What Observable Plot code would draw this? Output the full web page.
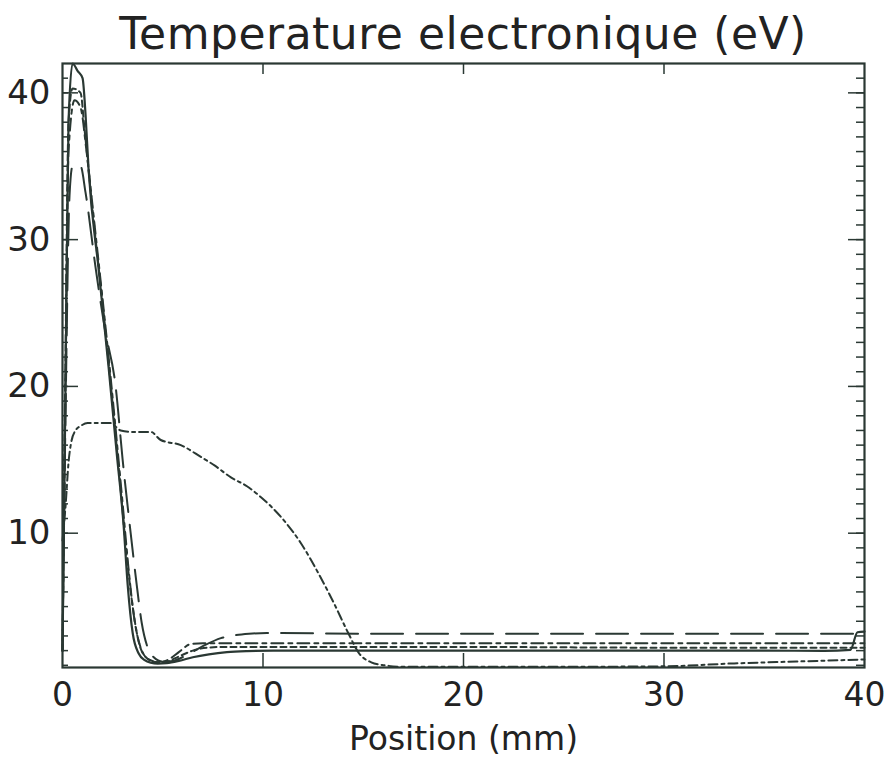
<!DOCTYPE html>
<html>
<head>
<meta charset="utf-8">
<script src="https://cdn.jsdelivr.net/npm/d3@7"></script>
<script src="https://cdn.jsdelivr.net/npm/@observablehq/plot@0.6"></script>
<style>
  html, body { margin: 0; padding: 0; background: #fff; }
  #wrap { position: relative; width: 889px; height: 760px; }
  #title { position: absolute; top: 12px; left: 62px; width: 802px; text-align: center;
           font-family: "DejaVu Sans", sans-serif; font-size: 44px; line-height: 1; color: #222; letter-spacing: 0.5px; }
</style>
</head>
<body>
<div id="wrap">
  <div id="title">Temperature electronique (eV)</div>
</div>
<script>
// ---- Data ----
const titleText = "Temperature electronique (eV)";
const xLabel = "Position (mm)";
const xTickValues = [0, 10, 20, 30, 40];
const xInnerTicks = [10, 20, 30];
const yTickValues = [10, 20, 30, 40];
const yMinorTicks = [1,2,3,4,5,6,7,8,9,10,11,12,13,14,15,16,17,18,19,20,21,22,23,24,25,26,27,28,29,30,31,32,33,34,35,36,37,38,39,40,41];

// Series 1: solid
const solidX = [0, 0.15, 0.3, 0.5, 0.75, 1.0, 1.15, 1.3, 1.8, 2.3, 2.7, 3.05, 3.25, 3.5, 3.8, 4.1, 4.4, 4.75, 5.2, 5.8, 6.5, 7.3, 8.2, 9.2, 10.5, 15, 20, 25, 30, 35, 38, 39.3, 39.65, 40];
const solidT = [2.0, 20, 38, 42, 41.5, 41, 38.5, 34.8, 28, 21.3, 15.5, 10.5, 6.5, 3.2, 1.8, 1.35, 1.18, 1.12, 1.15, 1.3, 1.55, 1.75, 1.9, 1.97, 2.0, 2.0, 2.0, 2.0, 2.0, 2.0, 1.98, 2.05, 3.25, 3.3];

// Series 2: long dash
const longDashX = [0, 0.15, 0.35, 0.5, 0.9, 1.15, 1.65, 2.1, 2.65, 3.0, 3.4, 3.7, 3.95, 4.25, 4.55, 5.0, 5.5, 6.2, 7.0, 7.9, 8.6, 9.3, 10.2, 15, 20, 30, 40];
const longDashT = [2, 18, 33, 35, 35, 33.2, 28.1, 24, 20, 15, 10, 6.5, 3.9, 2.2, 1.55, 1.25, 1.3, 1.7, 2.3, 2.85, 3.05, 3.15, 3.2, 3.15, 3.15, 3.15, 3.15];

// Series 3: dash-dot
const dashDotX = [0, 0.15, 0.3, 0.6, 0.9, 1.2, 1.6, 2.3, 3.0, 3.3, 3.6, 3.9, 4.3, 4.8, 5.3, 5.8, 6.4, 7.0, 8, 10, 20, 30, 39, 40];
const dashDotT = [2, 20, 36, 39.5, 39, 36, 31, 22, 12, 7.5, 4, 2.2, 1.4, 1.2, 1.4, 1.9, 2.45, 2.5, 2.5, 2.5, 2.5, 2.5, 2.5, 2.5];

// Series 4: short dash
const shortDashX = [0, 0.15, 0.3, 0.5, 0.9, 1.1, 1.5, 2.2, 2.9, 3.2, 3.5, 3.8, 4.2, 4.7, 5.2, 5.8, 6.5, 7.2, 8, 9, 10, 20, 30, 40];
const shortDashT = [2, 22, 38, 40.3, 40, 37.5, 32, 23, 13, 8.5, 5, 2.6, 1.5, 1.2, 1.25, 1.6, 2.0, 2.2, 2.25, 2.25, 2.25, 2.25, 2.2, 2.2];

// Series 5: dash-dot-dot (broad profile)
const broadX = [0, 0.15, 0.3, 0.45, 0.65, 0.9, 1.25, 1.9, 2.4, 2.9, 3.5, 4.4, 4.9, 5.9, 6.9, 7.6, 8.4, 9.2, 9.9, 10.9, 11.9, 12.75, 13.55, 14.25, 14.8, 15.4, 16.05, 17, 20, 25, 30, 33.5, 36.9, 40];
const broadT = [9.5, 11.8, 14.8, 16.3, 17.0, 17.3, 17.5, 17.5, 17.5, 17.0, 16.9, 16.9, 16.35, 16.0, 15.2, 14.6, 13.8, 13.2, 12.45, 11.1, 9.3, 7.3, 5.2, 3.2, 1.8, 1.2, 1.0, 0.9, 0.9, 0.9, 0.93, 1.13, 1.27, 1.4];

// ---- Build tables ----
const toRows = (xs, ts) => xs.map((x, i) => ({x, t: ts[i]}));
const series = [
  {rows: toRows(solidX, solidT), dash: null, w: 2.2},
  {rows: toRows(longDashX, longDashT), dash: "32,13", w: 2},
  {rows: toRows(dashDotX, dashDotT), dash: "12,5,4,5", w: 2},
  {rows: toRows(shortDashX, shortDashT), dash: "6,4", w: 2},
  {rows: toRows(broadX, broadT), dash: "9,4,3,4", w: 2}
];

const ink = "#2a3833";
const W = 889, H = 760;
const mL = 62, mR = 25, mT = 63, mB = 93;
const pw = W - mL - mR, ph = H - mT - mB;
const font = "DejaVu Sans, sans-serif";

const marks = [
  // minor ticks left/right
  Plot.tickY(yMinorTicks, {y: d => d, insetRight: pw - 6, stroke: ink, strokeWidth: 1.5}),
  Plot.tickY(yMinorTicks, {y: d => d, insetLeft: pw - 8, stroke: ink, strokeWidth: 1.5}),
  // major ticks left/right
  Plot.tickY(yTickValues, {y: d => d, insetRight: pw - 16, stroke: ink, strokeWidth: 1.5}),
  Plot.tickY(yTickValues, {y: d => d, insetLeft: pw - 16, stroke: ink, strokeWidth: 1.5}),
  // x ticks bottom/top
  Plot.tickX(xInnerTicks, {x: d => d, insetTop: ph - 14, stroke: ink, strokeWidth: 1.5}),
  Plot.tickX(xInnerTicks, {x: d => d, insetBottom: ph - 11, stroke: ink, strokeWidth: 1.5}),
  ...series.map(s => Plot.line(s.rows, {x: "x", y: "t", stroke: ink, strokeWidth: s.w, strokeDasharray: s.dash, curve: "monotone-x"})),
  Plot.frame({stroke: ink, strokeWidth: 2.2}),
  Plot.axisY(yTickValues, {anchor: "left", tickSize: 0, tickPadding: 12, fontSize: 34, fontFamily: font, fill: "#222", label: null}),
  Plot.axisX(xTickValues, {anchor: "bottom", tickSize: 0, tickPadding: 15, fontSize: 33, fontFamily: font, fill: "#222", label: null}),
  Plot.text([xLabel], {text: d => d, frameAnchor: "bottom", dy: 82, fontSize: 33, fontFamily: font, fill: "#222"})
];

const chart = Plot.plot({
  width: W, height: H,
  marginLeft: mL, marginRight: mR, marginTop: mT, marginBottom: mB,
  x: {domain: [0, 40]},
  y: {domain: [0.85, 42]},
  style: {background: "transparent", overflow: "visible"},
  marks
});
chart.style.position = "absolute";
chart.style.left = "0";
chart.style.top = "0";
document.getElementById("wrap").prepend(chart);
document.getElementById("title").textContent = titleText;
</script>
</body>
</html>
